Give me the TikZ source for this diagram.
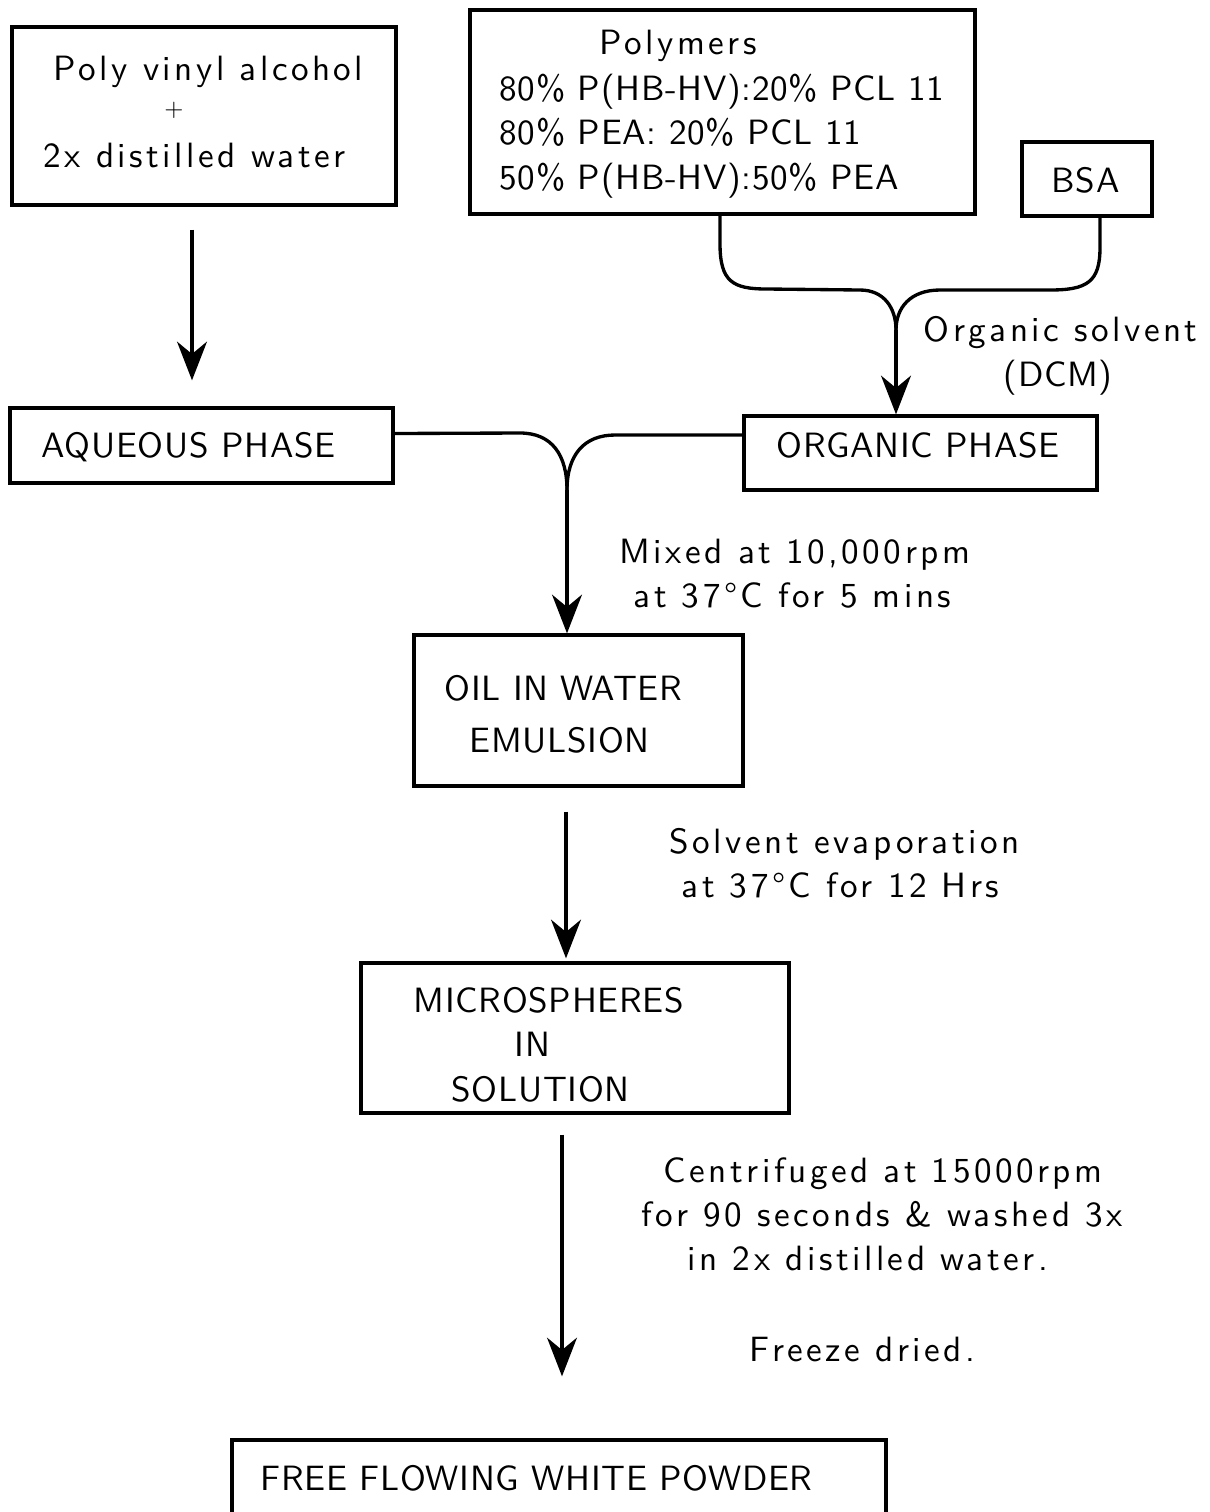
\documentclass[tikz,border=0pt]{standalone}
\usepackage{fontspec}
\setmainfont{lmsans10-regular.otf}[LetterSpace=2]
\newfontfamily\lowfont{lmsans10-regular.otf}[LetterSpace=10]
\usetikzlibrary{positioning, arrows.meta, fit}

\begin{document}
\begin{tikzpicture}[
    x=0.02cm, y=-0.02cm,
    line width=1.9pt,
    box/.style={draw, inner sep=0pt, line width=1.9pt},
    txt/.style={anchor=base west, inner sep=0pt, font=\fontsize{20}{24}\selectfont},
    low/.style={txt, font=\fontsize{20}{24}\lowfont},
    flow/.style={-{Stealth[length=22pt, width=17pt, inset=7pt]}}
]
    \clip (0,0) rectangle (1210,1512);

    % Boxes
    \node[box, fit={(12,27) (396,205)}] (pva) {};
    \node[box, fit={(470,10) (975,214)}] (poly) {};
    \node[box, fit={(1022,142) (1152,216)}] (bsa) {};
    \node[box, fit={(10,408) (393,483)}] (aq) {};
    \node[box, fit={(744,416) (1097,490)}] (org) {};
    \node[box, fit={(414,635) (743,786)}] (oil) {};
    \node[box, fit={(361,963) (789,1113)}] (micro) {};
    \node[box, fit={(232,1440) (886,1560)}] (powder) {};

    % Box texts
    \node[low] (pva1) at (52,80) {Poly vinyl alcohol};
    \node[txt, anchor=base, font=\fontsize{14}{16}\selectfont] (pva2) at (174,116) {+};
    \node[low] (pva3) at (42,167) {2x distilled water};
    \node[low] (poly0) at (598,54) {Polymers};
    \node[txt] (poly1) at (498,100) {80\% P(HB-HV):20\% PCL 11};
    \node[txt] (poly2) at (498,144) {80\% PEA: 20\% PCL 11};
    \node[txt] (poly3) at (498,189) {50\% P(HB-HV):50\% PEA};
    \node[txt] (bsa1) at (1050,192) {BSA};
    \node[txt] (aq1) at (40,457) {AQUEOUS PHASE};
    \node[txt] (org1) at (775,457) {ORGANIC PHASE};
    \node[txt] (oil1) at (443,700) {OIL IN WATER};
    \node[txt] (oil2) at (468,752) {EMULSION};
    \node[txt] (micro1) at (412,1012) {MICROSPHERES};
    \node[txt] (micro2) at (513,1056) {IN};
    \node[txt] (micro3) at (450,1101) {SOLUTION};
    \node[txt] (powder1) at (259,1490) {FREE FLOWING WHITE POWDER};

    % Step labels
    \node[low] (dcm1) at (922,341) {Organic solvent};
    \node[txt] (dcm2) at (1002,386) {(DCM)};
    \node[low] (mix1) at (618,563) {Mixed at 10,000rpm};
    \node[low] (mix2) at (632,607) {at 37°C for 5 mins};
    \node[low] (evap1) at (668,853) {Solvent evaporation};
    \node[low] (evap2) at (680,897) {at 37°C for 12 Hrs};
    \node[low] (cent1) at (662,1182) {Centrifuged at 15000rpm};
    \node[low] (cent2) at (640,1226) {for 90 seconds \& washed 3x};
    \node[low] (cent3) at (686,1270) {in 2x distilled water.};
    \node[low] (dry1) at (748,1361) {Freeze dried.};

    % Junctions
    \coordinate (j1) at (896,330);
    \coordinate (j2) at (567,490);
    \coordinate (a1) at (192,0);
    \coordinate (a2) at (566,0);
    \coordinate (a3) at (562,0);

    % Connectors
    \draw[flow, shorten <=0.46cm, shorten >=0.52cm] (pva.south -| a1) -- (aq.north -| a1);
    \draw ([xshift=-0.05cm]poly.south) -- ++(0,28)
        .. controls (720,282) and (733,289) .. (767,289) -- (860,290)
        .. controls (884,290) and (896,308) .. (j1);
    \draw ([xshift=0.26cm]bsa.south) -- ++(0,30)
        .. controls (1100,282) and (1087,290) .. (1050,290) -- (940,290)
        .. controls (910,290) and (896,308) .. (j1);
    \draw[flow] (j1) -- (org.north -| j1);
    \draw ([yshift=0.24cm]aq.east) -- (520,433)
        .. controls (552,433) and (567,455) .. (j2);
    \draw ([yshift=0.36cm]org.west) -- (615,435)
        .. controls (584,435) and (567,455) .. (j2);
    \draw[flow] (j2) -- (oil.north -| j2);
    \draw[flow, shorten <=0.48cm, shorten >=0.06cm] (oil.south -| a2) -- (micro.north -| a2);
    \draw[flow, shorten <=0.4cm, shorten >=1.24cm] (micro.south -| a3) -- (powder.north -| a3);
\end{tikzpicture}
\end{document}
